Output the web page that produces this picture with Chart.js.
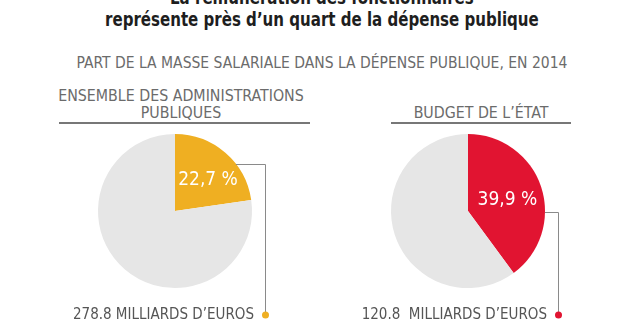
<!DOCTYPE html>
<html lang="fr">
<head>
<meta charset="utf-8">
<title>Masse salariale</title>
<script src="https://cdn.jsdelivr.net/npm/chart.js@4.4.1/dist/chart.umd.min.js"></script>
<style>
  html, body { margin: 0; padding: 0; background: #fff; }
  body { width: 644px; height: 322px; position: relative; overflow: hidden;
         font-family: "Liberation Sans Narrow", "DejaVu Sans Condensed", sans-serif; }
  .t { position: absolute; white-space: nowrap; text-align: center; }
  #title { left: 0; width: 644px; top: -14px; font-size: 19px; font-weight: bold;
           line-height: 22px; color: #1e1e1e; transform: scaleX(0.88); transform-origin: 321px 0; }
  #subtitle { left: 0; width: 644px; top: 54px; font-size: 15.5px; color: #6b6b6b; }
  .head { font-size: 15.8px; line-height: 17px; color: #6b6b6b; }
  .rule { position: absolute; height: 2px; background: #777; }
  canvas { position: absolute; }
</style>
</head>
<body>
<div id="title" class="t">La rémunération des fonctionnaires<br>représente près d’un quart de la dépense publique</div>
<div id="subtitle" class="t">PART DE LA MASSE SALARIALE DANS LA DÉPENSE PUBLIQUE, EN 2014</div>

<div class="t head" style="left:58px; width:246px; top:87px;">ENSEMBLE DES ADMINISTRATIONS<br>PUBLIQUES</div>
<div class="rule" style="left:59px; width:251px; top:122px;"></div>
<div class="t head" style="left:391px; width:180px; top:104px;">BUDGET DE L’ÉTAT</div>
<div class="rule" style="left:391px; width:180px; top:122px;"></div>

<canvas id="pieAll" width="260" height="197" style="left:40px; top:125px;"></canvas>
<canvas id="pieEtat" width="260" height="197" style="left:340px; top:125px;"></canvas>

<script>
// Part de la masse salariale (en %) et montant en milliards d'euros
const groups = ["Ensemble des administrations publiques", "Budget de l'État"];
const shares = [22.7, 39.9];
const amounts = ["278.8", "120.8 "];
const sliceColors = ["#efaf22", "#e11431"];
const restColor = "#e6e6e6";

// Libellé en % dans la part colorée + ligne de rappel vers le montant
const calloutPlugin = {
  id: "callout",
  afterDatasetsDraw(chart, args, opts) {
    const ctx = chart.ctx;
    const arc = chart.getDatasetMeta(0).data[0];
    const { x, y, outerRadius, startAngle, endAngle } = arc.getProps(
      ["x", "y", "outerRadius", "startAngle", "endAngle"], true);
    const span = endAngle - startAngle;

    const la = startAngle + span * opts.labelAt;
    const lr = outerRadius * opts.labelR;
    ctx.save();
    ctx.fillStyle = "#fff";
    ctx.font = '19px "Liberation Sans Narrow", "DejaVu Sans Condensed", sans-serif';
    ctx.textAlign = "center";
    ctx.textBaseline = "middle";
    ctx.fillText(opts.share.toFixed(1).replace(".", ",") + " %",
      x + Math.cos(la) * lr, y + Math.sin(la) * lr);

    // point de départ sur le bord de la part colorée
    const a = startAngle + span * opts.leaderAt;
    const sx = x + Math.cos(a) * outerRadius;
    const sy = Math.round(y + Math.sin(a) * outerRadius);
    const dotX = x + 90;
    const dotY = chart.height - 7;
    ctx.strokeStyle = "#8a8a8a";
    ctx.lineWidth = 1;
    ctx.beginPath();
    ctx.moveTo(sx, sy + 0.5);
    ctx.lineTo(dotX + 0.5, sy + 0.5);
    ctx.lineTo(dotX + 0.5, dotY);
    ctx.stroke();

    ctx.fillStyle = opts.color;
    ctx.beginPath();
    ctx.arc(dotX + 0.5, dotY, 3.5, 0, Math.PI * 2);
    ctx.fill();

    ctx.fillStyle = "#555";
    ctx.font = '15px "Liberation Sans Narrow", "DejaVu Sans Condensed", sans-serif';
    ctx.textAlign = "right";
    ctx.fillText(opts.amount + " MILLIARDS D’EUROS", dotX - 11, dotY);
    ctx.restore();
  }
};

function makePie(id, i, padding, labelAt, labelR, leaderAt) {
  return new Chart(document.getElementById(id), {
    type: "pie",
    data: {
      labels: [groups[i], "Autres dépenses"],
      datasets: [{
        data: [shares[i], +(100 - shares[i]).toFixed(1)],
        backgroundColor: [sliceColors[i], restColor],
        borderWidth: 0
      }]
    },
    options: {
      responsive: false,
      animation: false,
      layout: { padding: padding },
      plugins: {
        legend: { display: false },
        tooltip: { enabled: false },
        callout: { share: shares[i], amount: amounts[i], color: sliceColors[i],
                   labelAt: labelAt, labelR: labelR, leaderAt: leaderAt }
      }
    },
    plugins: [calloutPlugin]
  });
}

makePie("pieAll", 0, { left: 58, right: 48, top: 9, bottom: 34 }, 0.57, 0.59, 0.64);
makePie("pieEtat", 1, { left: 51, right: 55, top: 9, bottom: 34 }, 0.52, 0.53, 0.63);
</script>
</body>
</html>
